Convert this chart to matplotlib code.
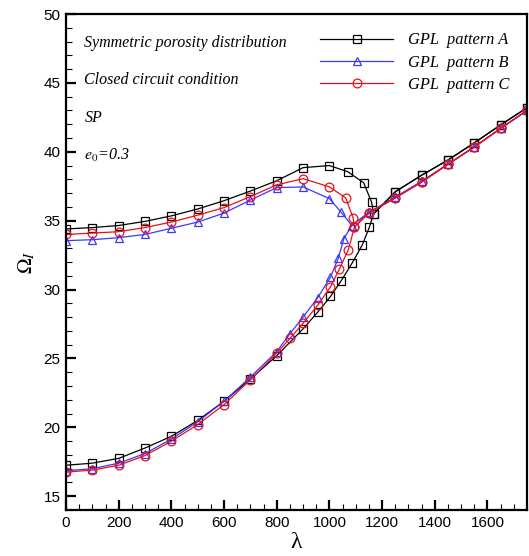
import numpy as np
import matplotlib
matplotlib.use('Agg')
import matplotlib.pyplot as plt
from matplotlib.ticker import MultipleLocator

plt.rcParams['font.family'] = ['Liberation Sans', 'DejaVu Sans']
plt.rcParams['mathtext.fontset'] = 'stix'

# GPL pattern A (black): upper branch, lower branch, merged part
A_up_x = [0, 100, 200, 300, 400, 500, 600, 700, 800, 900, 1000, 1070, 1130, 1160]
A_up_y = [34.4, 34.5, 34.65, 34.95, 35.35, 35.85, 36.45, 37.15, 37.9, 38.85, 39.0, 38.55, 37.75, 36.35]
A_low_x = [0, 100, 200, 300, 400, 500, 600, 700, 800, 900, 955, 1004, 1045, 1087, 1125, 1152]
A_low_y = [17.25, 17.4, 17.75, 18.5, 19.35, 20.5, 21.9, 23.5, 25.2, 27.15, 28.35, 29.5, 30.65, 31.95, 33.25, 34.55]
A_mrg_x = [1168, 1250, 1350, 1450, 1550, 1650, 1750]
A_mrg_y = [35.5, 37.1, 38.3, 39.4, 40.65, 41.95, 43.2]

# GPL pattern B (blue)
B_up_x = [0, 100, 200, 300, 400, 500, 600, 700, 800, 900, 1000, 1045]
B_up_y = [33.55, 33.62, 33.77, 34.0, 34.45, 34.9, 35.55, 36.5, 37.4, 37.45, 36.6, 35.6]
B_low_x = [0, 100, 200, 300, 400, 500, 600, 700, 800, 850, 900, 955, 1004, 1034, 1055]
B_low_y = [16.85, 17.0, 17.4, 18.1, 19.15, 20.4, 21.9, 23.65, 25.5, 26.8, 28.0, 29.4, 30.9, 32.3, 33.7]
B_mrg_x = [1085, 1150, 1250, 1350, 1450, 1550, 1650, 1750]
B_mrg_y = [34.65, 35.6, 36.7, 37.85, 39.1, 40.35, 41.7, 43.0]

# GPL pattern C (red)
C_up_x = [0, 100, 200, 300, 400, 500, 600, 700, 800, 900, 1000, 1062, 1090]
C_up_y = [34.0, 34.1, 34.2, 34.5, 34.9, 35.4, 35.95, 36.75, 37.6, 38.05, 37.45, 36.65, 35.2]
C_low_x = [0, 100, 200, 300, 400, 500, 600, 700, 800, 850, 900, 955, 1004, 1038, 1072]
C_low_y = [16.75, 16.9, 17.25, 17.95, 19.0, 20.2, 21.65, 23.45, 25.4, 26.45, 27.55, 28.85, 30.2, 31.5, 32.9]
C_mrg_x = [1095, 1150, 1250, 1350, 1450, 1550, 1650, 1750]
C_mrg_y = [34.55, 35.55, 36.65, 37.8, 39.1, 40.35, 41.7, 43.0]

series = [
    ('GPL  pattern A', 'black', 's', A_up_x, A_up_y, A_low_x, A_low_y, A_mrg_x, A_mrg_y),
    ('GPL  pattern B', '#3838ff', '^', B_up_x, B_up_y, B_low_x, B_low_y, B_mrg_x, B_mrg_y),
    ('GPL  pattern C', '#e8101a', 'o', C_up_x, C_up_y, C_low_x, C_low_y, C_mrg_x, C_mrg_y),
]

fig = plt.figure(figsize=(5.29, 5.56), dpi=100)
ax = fig.add_axes([0.1248, 0.0827, 0.8714, 0.8921])

for label, col, mk, ux, uy, lx, ly, mx, my in series:
    kw = dict(color=col, lw=0.9, marker=mk, ms=6.3, mfc='none', mec=col, mew=0.9)
    ax.plot(ux + mx, uy + my, label=label, **kw)
    ax.plot(lx + mx, ly + my, **kw)

ax.set_xlim(0, 1750)
ax.set_ylim(14, 50)
ax.xaxis.set_major_locator(MultipleLocator(200))
ax.xaxis.set_minor_locator(MultipleLocator(50))
ax.yaxis.set_major_locator(MultipleLocator(5))
ax.yaxis.set_minor_locator(MultipleLocator(1))
ax.tick_params(which='both', direction='in', top=False, right=False, labelsize=11)
ax.tick_params(which='major', length=7, width=1.6, pad=4)
ax.tick_params(which='minor', length=4.5, width=0.8)
for s in ax.spines.values():
    s.set_linewidth(1.6)

ax.set_xlabel('λ', fontsize=17, family=['Liberation Serif', 'DejaVu Serif'], labelpad=2)
ax.set_ylabel(r'$\Omega_{\mathit{I}}$', fontsize=15, labelpad=5)

serif = dict(family=['Liberation Serif', 'DejaVu Serif'], style='italic', fontsize=11.5)
ax.text(0.04, 0.941, 'Symmetric porosity distribution', transform=ax.transAxes, va='center', **serif)
ax.text(0.04, 0.866, 'Closed circuit condition', transform=ax.transAxes, va='center', **serif)
ax.text(0.04, 0.79, 'SP', transform=ax.transAxes, va='center', **serif)
ax.text(0.04, 0.714, r'$\mathit{e_0}$=0.3', transform=ax.transAxes, va='center', **serif)

ax.legend(loc='upper left', bbox_to_anchor=(0.552, 0.963), frameon=False,
          prop=dict(family=['Liberation Serif', 'DejaVu Serif'], style='italic', size=11.8),
          handlelength=4.4, handletextpad=0.95, labelspacing=0.38, borderpad=0, borderaxespad=0)

fig.savefig('out.png', dpi=100)
